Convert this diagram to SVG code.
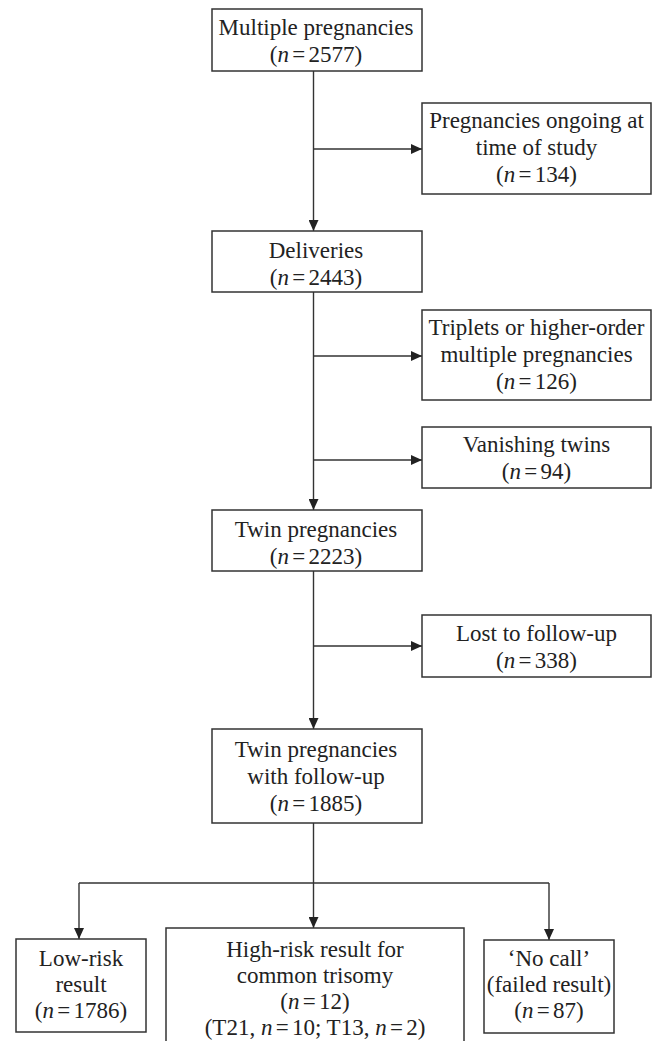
<svg xmlns="http://www.w3.org/2000/svg" width="656" height="1041" viewBox="0 0 656 1041">
<defs>
<style>
.box{fill:#fff;stroke:#333;stroke-width:1.5}
.t{font-family:"Liberation Serif","Times New Roman",serif;font-size:23px;fill:#222;text-anchor:middle}
.e{word-spacing:-2.5px}
.c{stroke:#333;stroke-width:1.4;fill:none}
.i{font-style:italic}
</style>
<marker id="ah" markerUnits="userSpaceOnUse" markerWidth="11" markerHeight="10" refX="11" refY="5" orient="auto">
<path d="M0,0 L11,5 L0,10 z" fill="#222"/>
</marker>
</defs>
<rect width="656" height="1041" fill="#fff"/>
<g id="connectors">
<line class="c" x1="313.5" y1="71" x2="313.5" y2="231" marker-end="url(#ah)"/>
<line class="c" x1="313.5" y1="149" x2="422" y2="149" marker-end="url(#ah)"/>
<line class="c" x1="313.5" y1="292" x2="313.5" y2="510" marker-end="url(#ah)"/>
<line class="c" x1="313.5" y1="356" x2="422" y2="356" marker-end="url(#ah)"/>
<line class="c" x1="313.5" y1="460" x2="422" y2="460" marker-end="url(#ah)"/>
<line class="c" x1="313.5" y1="571" x2="313.5" y2="729" marker-end="url(#ah)"/>
<line class="c" x1="313.5" y1="646" x2="422" y2="646" marker-end="url(#ah)"/>
<line class="c" x1="313.5" y1="823" x2="313.5" y2="928" marker-end="url(#ah)"/>
<polyline class="c" points="79,883 549,883"/>
<line class="c" x1="79" y1="883" x2="79" y2="939" marker-end="url(#ah)"/>
<line class="c" x1="549" y1="883" x2="549" y2="940" marker-end="url(#ah)"/>
</g>
<g id="multiple">
<rect class="box" x="212" y="9" width="210" height="62"/>
<text class="t" x="316" y="35">Multiple pregnancies</text>
<text class="t" x="316" y="62">(<tspan class="i">n</tspan><tspan class="e"> = </tspan>2577)</text>
</g>
<g id="ongoing">
<rect class="box" x="422" y="103" width="229" height="91"/>
<text class="t" x="536.5" y="128">Pregnancies ongoing at</text>
<text class="t" x="536.5" y="155">time of study</text>
<text class="t" x="536.5" y="182">(<tspan class="i">n</tspan><tspan class="e"> = </tspan>134)</text>
</g>
<g id="deliveries">
<rect class="box" x="212" y="231" width="210" height="61"/>
<text class="t" x="316" y="258">Deliveries</text>
<text class="t" x="316" y="285">(<tspan class="i">n</tspan><tspan class="e"> = </tspan>2443)</text>
</g>
<g id="triplets">
<rect class="box" x="422" y="310" width="229" height="90"/>
<text class="t" x="536.5" y="335">Triplets or higher-order</text>
<text class="t" x="536.5" y="362">multiple pregnancies</text>
<text class="t" x="536.5" y="389">(<tspan class="i">n</tspan><tspan class="e"> = </tspan>126)</text>
</g>
<g id="vanishing">
<rect class="box" x="422" y="427" width="229" height="61"/>
<text class="t" x="536.5" y="452">Vanishing twins</text>
<text class="t" x="536.5" y="479">(<tspan class="i">n</tspan><tspan class="e"> = </tspan>94)</text>
</g>
<g id="twin">
<rect class="box" x="212" y="510" width="210" height="61"/>
<text class="t" x="316" y="537">Twin pregnancies</text>
<text class="t" x="316" y="564">(<tspan class="i">n</tspan><tspan class="e"> = </tspan>2223)</text>
</g>
<g id="lost">
<rect class="box" x="422" y="615" width="229" height="62"/>
<text class="t" x="536.5" y="641">Lost to follow-up</text>
<text class="t" x="536.5" y="668">(<tspan class="i">n</tspan><tspan class="e"> = </tspan>338)</text>
</g>
<g id="followup">
<rect class="box" x="212" y="729" width="210" height="94"/>
<text class="t" x="316" y="757">Twin pregnancies</text>
<text class="t" x="316" y="784">with follow-up</text>
<text class="t" x="316" y="811">(<tspan class="i">n</tspan><tspan class="e"> = </tspan>1885)</text>
</g>
<g id="lowrisk">
<rect class="box" x="16" y="939" width="130" height="93"/>
<text class="t" x="81" y="966">Low-risk</text>
<text class="t" x="81" y="992">result</text>
<text class="t" x="81" y="1018">(<tspan class="i">n</tspan><tspan class="e"> = </tspan>1786)</text>
</g>
<g id="highrisk">
<rect class="box" x="166" y="928" width="298" height="130"/>
<text class="t" x="315" y="957">High-risk result for</text>
<text class="t" x="315" y="983">common trisomy</text>
<text class="t" x="315" y="1009">(<tspan class="i">n</tspan><tspan class="e"> = </tspan>12)</text>
<text class="t" x="315" y="1035">(T21, <tspan class="i">n</tspan><tspan class="e"> = </tspan>10; T13, <tspan class="i">n</tspan><tspan class="e"> = </tspan>2)</text>
</g>
<g id="nocall">
<rect class="box" x="484" y="940" width="130" height="93"/>
<text class="t" x="549" y="966">‘No call’</text>
<text class="t" x="549" y="992">(failed result)</text>
<text class="t" x="549" y="1018">(<tspan class="i">n</tspan><tspan class="e"> = </tspan>87)</text>
</g>
</svg>
